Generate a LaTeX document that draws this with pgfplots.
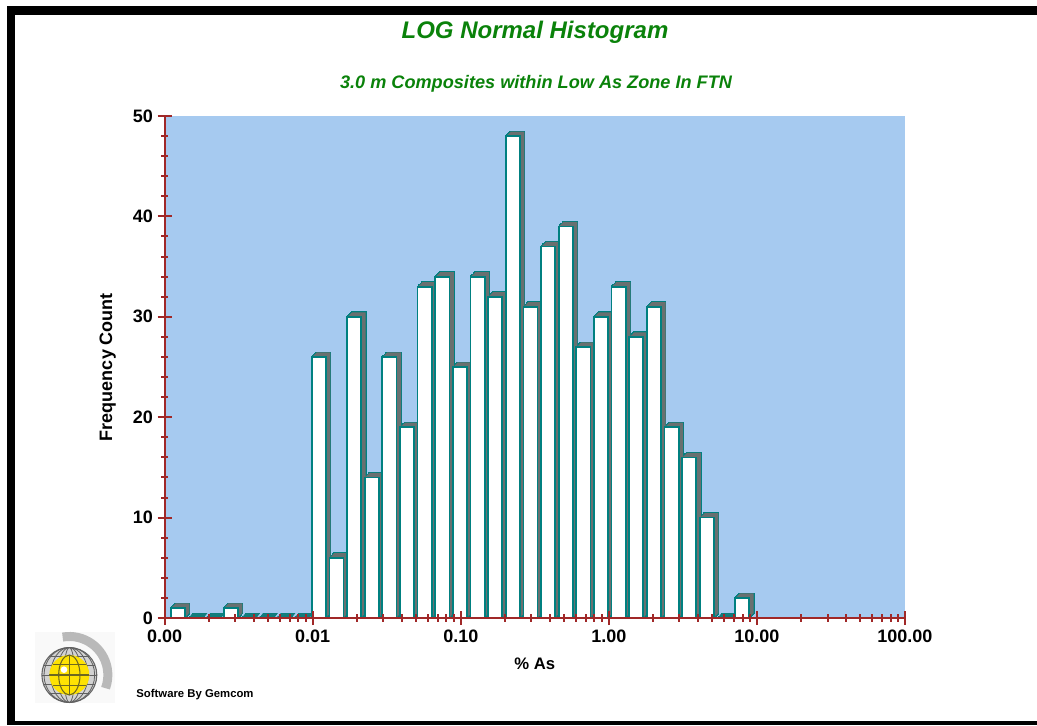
\documentclass[border=0pt]{standalone}
\usepackage{pgfplots}
\pgfplotsset{compat=1.18}
\usepackage{pgfplotstable}
\usepackage{fontspec}
\setmainfont{Liberation Sans}
\definecolor{skyb}{RGB}{166,202,240}
\definecolor{axred}{RGB}{160,40,40}
\definecolor{barteal}{RGB}{0,128,128}
\definecolor{shgray}{RGB}{105,112,112}
\definecolor{ttlgreen}{RGB}{10,130,10}

% bin centre (% As) and frequency count
\pgfplotstableread{
x count
0.0012267 1
0.0016138 0
0.0021230 0
0.0027929 1
0.0036742 0
0.0048336 0
0.0063588 0
0.0083654 0
0.011005 26
0.014478 6
0.019047 30
0.025057 14
0.032964 26
0.043366 19
0.057050 33
0.075052 34
0.098735 25
0.12989 34
0.17088 32
0.22480 48
0.29574 31
0.38906 37
0.51183 39
0.67333 27
0.88580 30
1.1653 33
1.5330 28
2.0168 31
2.6532 19
3.4904 16
4.5918 10
6.0408 0
7.9469 2
}\histdata

\pgfplotsset{
  sweepedge/.style={ybar, bar width=10.6pt, bar shift=#1, yshift=#1, draw=barteal, fill=barteal, line width=1.3pt, forget plot},
  sweepfill/.style={ybar, bar width=10.6pt, bar shift=#1, yshift=#1, draw=none, fill=shgray, forget plot},
}

\begin{document}
\begin{tikzpicture}
\useasboundingbox (0,0) rectangle (777.75pt,-543.75pt);
% frame
\fill[black] (5.25pt,-4.5pt) rectangle (11.25pt,-543.75pt);
\fill[black] (5.25pt,-4.5pt) rectangle (777.75pt,-11.25pt);
\fill[black] (5.25pt,-540.75pt) rectangle (777.75pt,-543.75pt);

\begin{axis}[
  at={(123.5pt,-463.5pt)}, anchor=south west,
  scale only axis, width=555.2pt, height=376.5pt,
  xmode=log, xmin=0.001, xmax=100, ymin=0, ymax=50,
  axis x line*=bottom, axis y line*=left,
  axis on top,
  axis line style={draw=axred, line width=1.3pt, -},
  axis background/.style={fill=skyb},
  xtick={0.001,0.01,0.1,1,10,100},
  xticklabels={0.00,0.01,0.10,1.00,10.00,100.00},
  minor xtick={0.002,0.003,0.004,0.005,0.006,0.007,0.008,0.009,
               0.02,0.03,0.04,0.05,0.06,0.07,0.08,0.09,
               0.2,0.3,0.4,0.5,0.6,0.7,0.8,0.9,
               2,3,4,5,6,7,8,9,
               20,30,40,50,60,70,80,90},
  ytick={0,10,...,50},
  minor ytick={2,4,6,8,12,14,16,18,22,24,26,28,32,34,36,38,42,44,46,48},
  xtick align=center, ytick align=center,
  major tick length=10.5pt, minor tick length=5.5pt,
  every tick/.style={axred, line width=1.5pt},
  ticklabel style={font=\bfseries\fontsize{13.5}{14}\selectfont, black},
  /pgf/number format/assume math mode=true,
  xlabel={\% As}, ylabel={Frequency Count},
  xlabel style={font=\bfseries\fontsize{12.5}{14}\selectfont, at={(axis description cs:0.5,-0.0916)}, anchor=center},
  ylabel style={font=\bfseries\fontsize{13.5}{15}\selectfont, at={(axis description cs:-0.077,0.5)}, anchor=center},
]
% 3-D depth of the bars (swept offsets)
\addplot[sweepedge=0.57pt] table[x=x,y=count]{\histdata};
\addplot[sweepedge=1.13pt] table[x=x,y=count]{\histdata};
\addplot[sweepedge=1.7pt] table[x=x,y=count]{\histdata};
\addplot[sweepedge=2.27pt] table[x=x,y=count]{\histdata};
\addplot[sweepedge=2.83pt] table[x=x,y=count]{\histdata};
\addplot[sweepedge=3.4pt] table[x=x,y=count]{\histdata};
\addplot[sweepfill=0.57pt] table[x=x,y=count]{\histdata};
\addplot[sweepfill=1.13pt] table[x=x,y=count]{\histdata};
\addplot[sweepfill=1.7pt] table[x=x,y=count]{\histdata};
\addplot[sweepfill=2.27pt] table[x=x,y=count]{\histdata};
\addplot[sweepfill=2.83pt] table[x=x,y=count]{\histdata};
\addplot[sweepfill=3.4pt] table[x=x,y=count]{\histdata};
% front faces
\addplot[ybar, bar width=10.6pt, bar shift=0pt, draw=barteal, fill=white, line width=1.3pt] table[x=x,y=count]{\histdata};
\end{axis}

% titles
\node[font=\bfseries\itshape\fontsize{18}{20}\selectfont, text=ttlgreen] at (401.25pt,-24pt) {LOG Normal Histogram};
\node[font=\bfseries\itshape\fontsize{13.6}{15}\selectfont, text=ttlgreen] at (402pt,-62.5pt) {3.0 m Composites within Low As Zone In FTN};

% logo
\fill[gray!5] (26.25pt,-474pt) rectangle (86.25pt,-527.25pt);
\begin{scope}[shift={(52pt,-506.25pt)}]
  \draw[gray!55, line width=6.75pt] (100:28.9pt) arc (100:-20:28.9pt);
  \fill[gray!35] (0,0) circle (20.6pt);
  \draw[gray!80!black, line width=0.8pt] (0,0) circle (20.6pt);
  \foreach \a in {4,9,14,19} {\draw[gray!75!black, line width=0.6pt] (0,0) ellipse (\a pt and 20.6pt);}
  \foreach \h in {-14,-7,0,7,14} {\draw[gray!75!black, line width=0.6pt] ({-sqrt(20.6*20.6-\h*\h)*1pt},\h pt) -- ({sqrt(20.6*20.6-\h*\h)*1pt},\h pt);}
  \fill[yellow!85!orange] (0,0) circle (15pt);
  \draw[olive!70!black, line width=0.8pt] (0,-15pt) -- (0,15pt);
  \draw[olive!70!black, line width=0.8pt] (0,0) ellipse (8pt and 15pt);
  \draw[olive!70!black, line width=0.8pt] (-15pt,0) -- (15pt,0);
  \draw[olive!70!black, line width=0.8pt] (-12.5pt,8pt) -- (12.5pt,8pt);
  \draw[olive!70!black, line width=0.8pt] (-12.5pt,-8pt) -- (12.5pt,-8pt);
  \fill[white] (-4pt,4pt) circle (2.5pt);
\end{scope}
\node[font=\bfseries\fontsize{8.5}{10}\selectfont] at (146.25pt,-521.25pt) {Software By Gemcom};
\end{tikzpicture}
\end{document}
